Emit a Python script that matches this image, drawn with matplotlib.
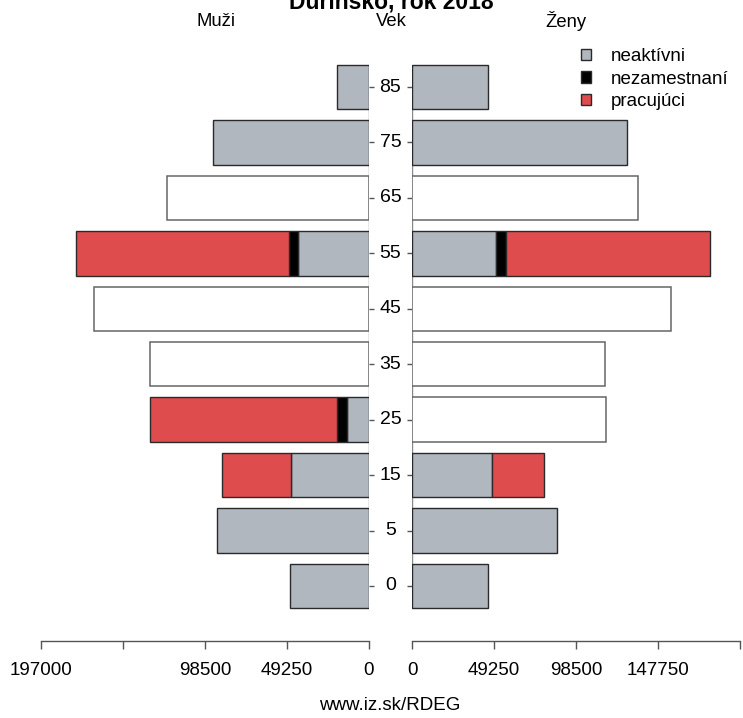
import numpy as np
import matplotlib
matplotlib.use("Agg")
import matplotlib.pyplot as plt
from matplotlib.patches import Patch
from matplotlib.transforms import blended_transform_factory

plt.rcParams['font.family'] = ['Liberation Sans', 'DejaVu Sans']

nan = np.nan
ages = [0, 5, 15, 25, 35, 45, 55, 65, 75, 85]
age_labels = [str(a) for a in ages]

# Muži (men)
m_neaktivni = [47400, 91300, 47000, 13200, nan, nan, 42600, nan, 93700, 19200]
m_nezamestnani = [0, 0, 0, 6000, nan, nan, 5600, nan, 0, 0]
m_pracujuci = [0, 0, 41100, 112500, nan, nan, 127500, nan, 0, 0]
m_total = [47400, 91300, 88100, 131700, 131700, 165300, 175700, 121300, 93700, 19200]

# Ženy (women)
z_neaktivni = [45600, 87100, 48300, nan, nan, nan, 50700, nan, 129100, 45600]
z_nezamestnani = [0, 0, 0, nan, nan, nan, 5600, nan, 0, 0]
z_pracujuci = [0, 0, 30800, nan, nan, nan, 122500, nan, 0, 0]
z_total = [45600, 87100, 79100, 116500, 115900, 155800, 178800, 135700, 129100, 45600]

xticks = [0, 49250, 98500, 147750, 197000]
xticklabels_l = ['0', '49250', '98500', '', '197000']
xticklabels_r = ['0', '49250', '98500', '147750', '']

c_neakt = '#B0B7BF'
c_nezam = '#000000'
c_prac = '#DF4C4E'
edge = '#2a2a2a'

FS = 13.5

W, H = 743, 718
fig = plt.figure(figsize=(W / 100, H / 100), dpi=100)

bottom = 1 - 641.4 / H
top = 1 - 59.3 / H
axw = 328 / W
ax_l = fig.add_axes([41 / W, bottom, axw, top - bottom])
ax_r = fig.add_axes([412 / W, bottom, axw, top - bottom])

y = np.arange(len(ages))
bh = 0.8

def draw(ax, neak, nez, prac, tot):
    for i in range(len(ages)):
        if np.isnan(neak[i]):
            ax.barh(y[i], tot[i], height=bh, color='white', edgecolor='#666666', linewidth=1.1, zorder=2)
        else:
            left = 0
            for v, c in ((neak[i], c_neakt), (nez[i], c_nezam), (prac[i], c_prac)):
                if v > 0:
                    ax.barh(y[i], v, left=left, height=bh, color=c, edgecolor=edge, linewidth=1.0, zorder=2)
                    left += v
    ax.vlines(0, -0.4, len(ages) - 1 + 0.4, color='#888888', linewidth=1.0, zorder=1)

draw(ax_l, m_neaktivni, m_nezamestnani, m_pracujuci, m_total)
draw(ax_r, z_neaktivni, z_nezamestnani, z_pracujuci, z_total)

for ax, labs in ((ax_l, xticklabels_l), (ax_r, xticklabels_r)):
    ax.set_xlim(0, 197000)
    ax.set_ylim(-1, 9.5)
    for s in ('top', 'left', 'right'):
        ax.spines[s].set_visible(False)
    ax.spines['bottom'].set_color('#555555')
    ax.spines['bottom'].set_linewidth(1.0)
    ax.set_xticks(xticks)
    ax.set_xticklabels(labs)
    ax.tick_params(axis='x', direction='out', length=5.5, width=1.0, color='#555555',
                   pad=9.5, labelsize=FS)
    ax.set_yticks(y)
    ax.set_yticklabels([])
    ax.patch.set_visible(False)

ax_l.invert_xaxis()
ax_l.yaxis.tick_right()
ax_l.tick_params(axis='y', direction='out', length=3.5, width=1.0, color='#555555')
ax_r.yaxis.tick_left()
ax_r.tick_params(axis='y', direction='out', length=3.5, width=1.0, color='#555555')

tr = blended_transform_factory(fig.transFigure, ax_l.transData)
for i, lab in enumerate(age_labels):
    fig.text(390.5 / W, y[i], lab, transform=tr, ha='center', va='center', fontsize=14)

fig.text(391 / W, 1 - 8.5 / H, 'Durínsko, rok 2018', ha='center', va='baseline',
         fontsize=16.5, fontweight='bold')
fig.text(216 / W, 1 - 21 / H, 'Muži', ha='center', va='center', fontsize=13.3)
fig.text(391 / W, 1 - 21 / H, 'Vek', ha='center', va='center', fontsize=13.3)
fig.text(566 / W, 1 - 21 / H, 'Ženy', ha='center', va='center', fontsize=13.3)
fig.text(390 / W, 1 - 706 / H, 'www.iz.sk/RDEG', ha='center', va='center', fontsize=FS)

handles = [Patch(facecolor=c_neakt, edgecolor=edge, label='neaktívni'),
           Patch(facecolor=c_nezam, edgecolor=edge, label='nezamestnaní'),
           Patch(facecolor=c_prac, edgecolor=edge, label='pracujúci')]
fig.legend(handles=handles, loc='upper left', bbox_to_anchor=(581 / W, 1 - 48 / H),
           frameon=False, fontsize=FS, handlelength=0.55, handleheight=0.55,
           handletextpad=1.05, labelspacing=0.3, borderpad=0, borderaxespad=0)

fig.savefig('out.png', dpi=100)
